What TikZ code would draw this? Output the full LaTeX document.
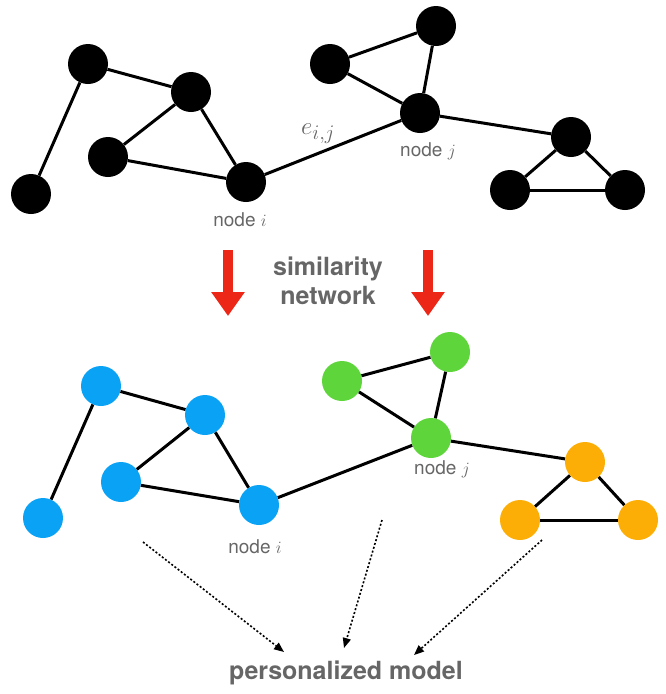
\documentclass[tikz,border=0pt]{standalone}
\usepackage{fontspec}
\setmainfont{TeX Gyre Heros}
\usepackage{amsmath}
\usepackage{xcolor}
\usetikzlibrary{arrows.meta}

\definecolor{blueish}{HTML}{0AA2F5}
\definecolor{greenish}{HTML}{5ED53A}
\definecolor{orangeish}{HTML}{FDAE06}
\definecolor{redarrow}{HTML}{EC2717}
\definecolor{labelgray}{HTML}{666666}

\tikzset{
  vert/.style={circle, minimum size=40pt, inner sep=0pt},
  edge/.style={line width=3pt},
  lbl/.style={text=labelgray, font=\fontsize{19}{22}\selectfont},
  bold lbl/.style={text=labelgray, font=\fontsize{25}{29}\selectfont\bfseries},
  bigarrow/.style={redarrow, line width=10pt, -{Triangle[width=32pt,length=24pt]}},
  model/.style={dash pattern=on 2pt off 2pt, line width=1.6pt, -{Triangle[width=8pt,length=10pt]}}
}

\begin{document}
\begin{tikzpicture}[x=1pt,y=-1pt]

    \useasboundingbox (0,0) rectangle (665,694);

    % Top graph (black)
    \node[vert, fill=black] (a) at (88,64) {};
    \node[vert, fill=black] (b) at (191,92) {};
    \node[vert, fill=black] (c) at (108,157) {};
    \node[vert, fill=black] (d) at (246,182) {};
    \node[vert, fill=black] (e) at (31,194) {};
    \node[vert, fill=black] (f) at (330,64) {};
    \node[vert, fill=black] (g) at (436,26) {};
    \node[vert, fill=black] (h) at (420,113) {};
    \node[vert, fill=black] (k) at (571,137) {};
    \node[vert, fill=black] (l) at (510,190) {};
    \node[vert, fill=black] (m) at (625,190) {};

    \draw[edge] (a) -- (e);
    \draw[edge] (a) -- (b);
    \draw[edge] (b) -- (c);
    \draw[edge] (b) -- (d);
    \draw[edge] (c) -- (d);
    \draw[edge] (d) -- (h);
    \draw[edge] (f) -- (g);
    \draw[edge] (f) -- (h);
    \draw[edge] (g) -- (h);
    \draw[edge] (h) -- (k);
    \draw[edge] (k) -- (l);
    \draw[edge] (k) -- (m);
    \draw[edge] (l) -- (m);

    \node[lbl] (lbli) at (240,220) {node $i$};
    \node[lbl] (lblj) at (428,151) {node $j$};
    \node[text=labelgray, font=\fontsize{30}{32}\selectfont] (eij) at (318,134) {$e_{i,j}$};

    % Red arrows and caption
    \coordinate (r1s) at (228,250);
    \coordinate (r1e) at (228,316);
    \coordinate (r2s) at (428,250);
    \coordinate (r2e) at (428,316);
    \draw[bigarrow] (r1s) -- (r1e);
    \draw[bigarrow] (r2s) -- (r2e);
    \node[bold lbl, align=center] (sim) at (328,281) {similarity\\network};

    % Bottom graph (coloured)
    \node[vert, fill=blueish] (a2) at (101,386) {};
    \node[vert, fill=blueish] (b2) at (205,415) {};
    \node[vert, fill=blueish] (c2) at (121,482) {};
    \node[vert, fill=blueish] (d2) at (259,505) {};
    \node[vert, fill=blueish] (e2) at (43,518) {};
    \node[vert, fill=greenish] (f2) at (342,381) {};
    \node[vert, fill=greenish] (g2) at (450,352) {};
    \node[vert, fill=greenish] (h2) at (431,438) {};
    \node[vert, fill=orangeish] (k2) at (585,462) {};
    \node[vert, fill=orangeish] (l2) at (520,520) {};
    \node[vert, fill=orangeish] (m2) at (638,520) {};

    \draw[edge] (a2) -- (e2);
    \draw[edge] (a2) -- (b2);
    \draw[edge] (b2) -- (c2);
    \draw[edge] (b2) -- (d2);
    \draw[edge] (c2) -- (d2);
    \draw[edge] (d2) -- (h2);
    \draw[edge] (f2) -- (g2);
    \draw[edge] (f2) -- (h2);
    \draw[edge] (g2) -- (h2);
    \draw[edge] (h2) -- (k2);
    \draw[edge] (k2) -- (l2);
    \draw[edge] (k2) -- (m2);
    \draw[edge] (l2) -- (m2);

    \node[lbl] (lbli2) at (255,547) {node $i$};
    \node[lbl] (lblj2) at (442,469) {node $j$};

    % Dotted arrows to the model
    \node[bold lbl] (pm) at (346,673) {personalized model};
    \coordinate (s1) at (143,542);
    \coordinate (t1) at (284,652);
    \coordinate (s2) at (382,520);
    \coordinate (t2) at (344,648);
    \coordinate (s3) at (542,540);
    \coordinate (t3) at (414,655);
    \draw[model] (s1) -- (t1);
    \draw[model] (s2) -- (t2);
    \draw[model] (s3) -- (t3);

\end{tikzpicture}
\end{document}
